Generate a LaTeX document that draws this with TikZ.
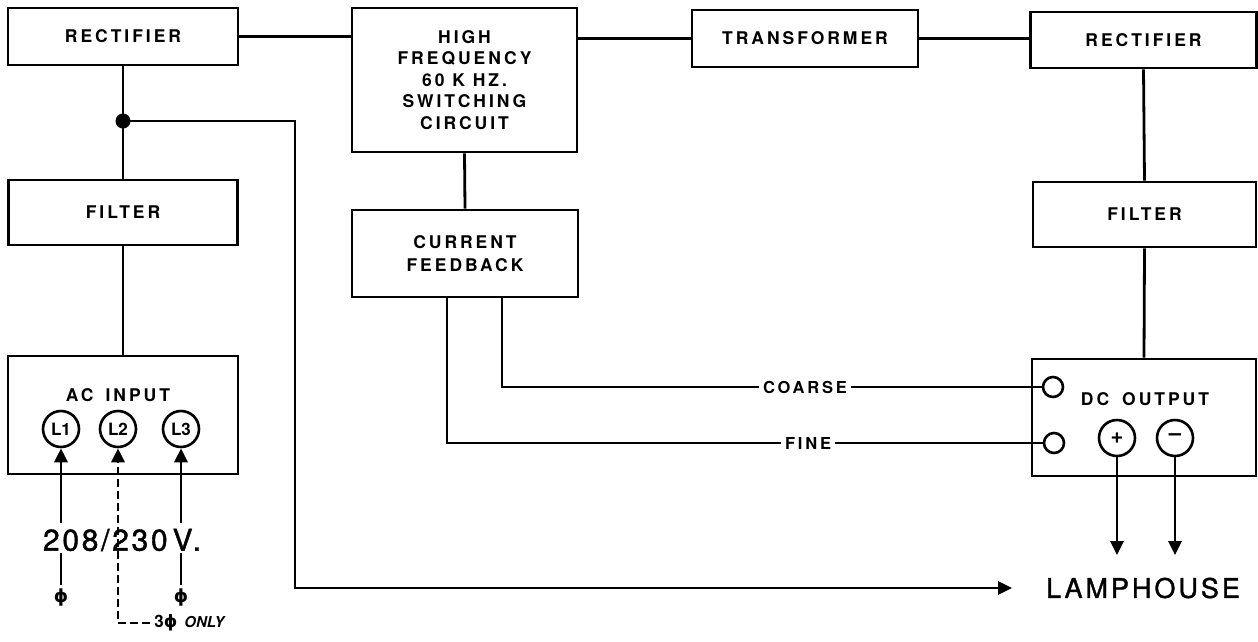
\documentclass[tikz,border=0pt]{standalone}
\usepackage{fontspec}
\setmainfont{TeX Gyre Heros}
\newfontfamily\lblfnt[LetterSpace=17]{TeX Gyre Heros}
\newfontfamily\voltfnt[LetterSpace=9,FakeBold=1.3]{TeX Gyre Heros}
\newfontfamily\lampfnt[LetterSpace=11,FakeBold=1.3]{TeX Gyre Heros}
\newfontfamily\symfnt{DejaVu Sans}
\usetikzlibrary{arrows.meta}
\begin{document}
\begin{tikzpicture}[x=1pt,y=1pt,line width=2.8pt,
  box/.style={draw,line width=2.8pt,inner sep=0pt,align=center,
    font=\lblfnt\fontsize{17.5}{21.5}\selectfont\bfseries},
  lab/.style={inner sep=3pt,font=\lblfnt\fontsize{16.5}{16.5}\selectfont\bfseries},
  term/.style={circle,draw,line width=2.6pt,minimum size=36pt,inner sep=0pt,
    font=\fontsize{17}{17}\selectfont\bfseries},
  scirc/.style={circle,draw,line width=2.6pt,minimum size=20pt,inner sep=0pt},
  tip/.style={-{Triangle[length=14pt,width=13pt]}},
  thin/.style={line width=2.4pt}]
\useasboundingbox (0,0) rectangle (1258,-641);

% boxes
\node[box,minimum width=230pt,minimum height=57pt] (rect1) at (123,-36.5) {RECTIFIER};
\node[box,minimum width=225pt,minimum height=144pt] (hf) at (464.5,-80) {HIGH\\FREQUENCY\\60 K HZ.\\SWITCHING\\CIRCUIT};
\node[box,minimum width=226pt,minimum height=57pt] (trans) at (805,-38.5) {TRANSFORMER};
\node[box,minimum width=226pt,minimum height=56pt] (rect2) at (1143.5,-40) {RECTIFIER};
\node[box,minimum width=229pt,minimum height=65pt] (filt1) at (123,-212.5) {FILTER};
\node[box,minimum width=226pt,minimum height=87pt] (cf) at (465,-253.5) {CURRENT\\[1.5pt]FEEDBACK};
\node[box,minimum width=223pt,minimum height=65pt] (filt2) at (1144.5,-214.5) {FILTER};
\node[box,minimum width=230pt,minimum height=118pt] (ac) at (123,-415) {};
\node[box,minimum width=224pt,minimum height=117pt] (dc) at (1144,-417.5) {};

% connections along the top
\draw (rect1.east) -- (rect1.east -| hf.west);
\draw (trans.west -| hf.east) -- (trans.west);
\draw (trans.east) -- (trans.east -| rect2.west);
\draw (rect1.south) -- (filt1.north);
\draw (filt1.south) -- (ac.north);
\draw (hf.south) -- (cf.north);
\draw (rect2.south) -- (filt2.north);
\draw (filt2.south) -- (dc.north);

% AC input
\node[lab,font=\lblfnt\fontsize{17.5}{17.5}\selectfont\bfseries] (actxt) at (118,-395) {AC\hspace{12pt}INPUT};
\node[term] (L1) at (61,-429) {L1};
\node[term] (L2) at (118,-429) {L2};
\node[term] (L3) at (181,-429) {L3};
\coordinate (lv1) at (0,-523);
\coordinate (lo1) at (0,-553);
\coordinate (lo2) at (0,-585);
\coordinate (c3) at (150,-623);
\draw[tip] (L1.south |- lv1) -- (L1.south);
\draw[tip] (L3.south |- lv1) -- (L3.south);
\draw (L1.south |- lo1) -- (L1.south |- lo2);
\draw (L3.south |- lo1) -- (L3.south |- lo2);
\draw[tip,dash pattern=on 8pt off 4pt] (c3) -- (c3 -| L2.south) -- (L2.south);
\node[font=\voltfnt\fontsize{30}{30}\selectfont] (volt) at (122,-540) {208/230\hspace{5pt}V.};
\node[font=\symfnt\fontsize{18}{18}\selectfont\bfseries] (ph1) at (61,-598) {ϕ};
\node[font=\symfnt\fontsize{18}{18}\selectfont\bfseries] (ph3) at (181,-598) {ϕ};
\node[anchor=west,inner sep=1pt] (only) at (152,-623) {{\fontsize{17}{17}\selectfont\bfseries 3{\symfnt ϕ}}\hspace{7pt}{\fontsize{15}{15}\selectfont\bfseries\itshape ONLY}};

% junction and lamphouse line
\coordinate (j) at (123,-121);
\coordinate (jr) at (295,-121);
\coordinate (jd) at (295,-588);
\coordinate (la) at (1012,-588);
\fill (j) circle (7.5pt);
\draw[tip] (j) -- (jr) -- (jd) -- (la);
\node[font=\lampfnt\fontsize{27}{27}\selectfont] (lamp) at (1143,-588) {LAMPHOUSE};

% feedback lines
\coordinate (xf) at (447,0);
\coordinate (xc) at (502,0);
\node[lab] (coarse) at (805,-387) {COARSE};
\node[lab] (fine) at (808,-443) {FINE};
\node[scirc] (cc) at (1053,-387) {};
\node[scirc] (fc) at (1054,-443) {};
\draw[thin] (cf.south -| xc) |- (coarse.west);
\draw[thin] (coarse.east) -- (cc.west);
\draw[thin] (cf.south -| xf) |- (fine.west);
\draw[thin] (fine.east) -- (fc.west);

% DC output
\node[lab,font=\lblfnt\fontsize{17.5}{17.5}\selectfont\bfseries] (dctxt) at (1145,-399) {DC\hspace{13pt}OUTPUT};
\node[term,font=\fontsize{22}{22}\selectfont\bfseries] (plus) at (1117,-438) {+};
\node[term,font=\fontsize{22}{22}\selectfont\bfseries] (minus) at (1175,-438) {\raisebox{1pt}{–}};
\coordinate (al) at (0,-555);
\draw[tip] (plus.south) -- (plus.south |- al);
\draw[tip] (minus.south) -- (minus.south |- al);
\end{tikzpicture}
\end{document}
